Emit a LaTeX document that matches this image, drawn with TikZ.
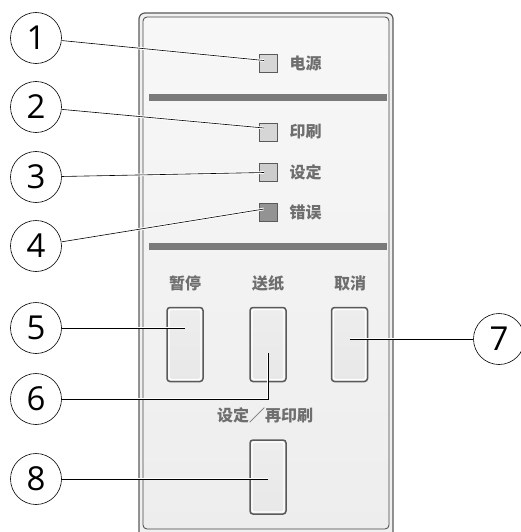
\documentclass[tikz,border=0pt]{standalone}
\usepackage{fontspec}
\setmainfont{Open Sans}
\newfontfamily\cjk{Noto Sans CJK SC}
\definecolor{labelgray}{HTML}{6E6E6E}
\definecolor{bargray}{HTML}{7A7A7A}
\definecolor{rimgray}{HTML}{5A5A5A}
\tikzset{
    callout/.style={circle,draw,fill=white,line width=0.6pt,minimum size=51pt,
        inner sep=0pt,font=\fontsize{33}{33}\selectfont},
    leader/.style={line width=0.6pt,preaction={draw=white,line width=2.6pt}},
    lamp/.style={rectangle,draw=rimgray,line width=1pt,minimum size=18pt,inner sep=0pt},
    keycap/.style={rectangle,rounded corners=3pt,draw=rimgray,line width=1.5pt,
        minimum width=36pt,minimum height=74pt,inner sep=0pt,
        top color=gray!14,middle color=white,bottom color=gray!18,
        path picture={\draw[white,line width=1.4pt,rounded corners=2pt]
            ([shift={(2pt,-2pt)}]path picture bounding box.north west) rectangle
            ([shift={(-2pt,2pt)}]path picture bounding box.south east);}},
    caption/.style={text=labelgray,font=\cjk\bfseries\fontsize{16}{16}\selectfont},
}
\begin{document}
\begin{tikzpicture}[x=1pt,y=-1pt]
        \useasboundingbox (0,0) rectangle (521,532);
        %% Panel frame
        \draw[rimgray,line width=1.2pt,fill=gray!12,rounded corners=6pt]
            (139,13) rectangle (393,545);
        \shade[top color=gray!6,bottom color=gray!14,draw=gray!55!black,
            line width=0.8pt,rounded corners=4pt] (143,17) rectangle (389,529);
        \fill[bargray] (149,94) rectangle (387,101);
        \fill[bargray] (149,243) rectangle (387,250);
        %% Lamps, top half
        \node[lamp,fill=gray!32] (l1) at (268.5,63.5) {};
        \node[caption,anchor=west] at (286,63.5) {电源};
        \node[lamp,fill=gray!32] (l2) at (268.5,132) {};
        \node[caption,anchor=west] at (286,132) {印刷};
        \node[lamp,fill=gray!40] (l3) at (268.5,172.5) {};
        \node[caption,anchor=west] at (286,172.5) {设定};
        \node[lamp,fill=gray!85] (l4) at (268.5,212) {};
        \node[caption,anchor=west] at (286,212) {错误};
        %% Keys, bottom half
        \node[caption] at (185,283) {暂停};
        \node[caption] at (268,283) {送纸};
        \node[caption] at (350,283) {取消};
        \node[keycap] (k5) at (185,344.5) {};
        \node[keycap] (k6) at (268,344.5) {};
        \node[keycap] (k7) at (349.5,344.5) {};
        \node[caption] at (265,415) {设定／再印刷};
        \node[keycap] (k8) at (268,477) {};
        %% Numbered callouts
        \node[callout] (c1) at (36,38) {1};
        \node[callout] (c2) at (36,107) {2};
        \node[callout] (c3) at (36,177) {3};
        \node[callout] (c4) at (36,246) {4};
        \node[callout] (c5) at (36,328) {5};
        \node[callout] (c6) at (36,399) {6};
        \node[callout] (c7) at (499,339) {7};
        \node[callout] (c8) at (36,479) {8};
        %% Leaders
        \draw[leader] (c1) -- ([shift={(5pt,3pt)}]l1.west);
        \draw[leader] (c2) -- ([shift={(5pt,4pt)}]l2.west);
        \draw[leader] (c3) -- ([shift={(5pt,0pt)}]l3.west);
        \draw[leader] (c4) -- ([shift={(5pt,3pt)}]l4.west);
        \draw[leader] (c5) -- (c5 -| k5.center);
        \draw[leader] (c6) -- (c6 -| k6.center) -- ([yshift=-8pt]k6.center);
        \draw[leader] (c7) -- (c7 -| k7.center);
        \draw[leader] (c8) -- (c8 -| k8.center);
    \end{tikzpicture}
\end{document}
